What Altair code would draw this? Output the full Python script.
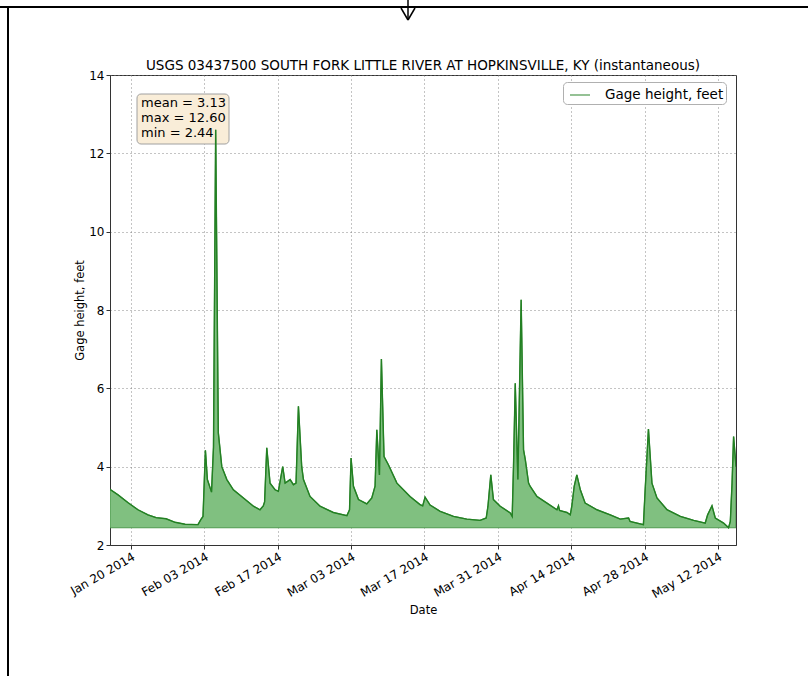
import altair as alt
import pandas as pd

# ---------------- data ----------------
dates = [
    "2014-01-16 00:00", "2014-01-17 13:00", "2014-01-19 11:00", "2014-01-21 08:00",
    "2014-01-23 06:00", "2014-01-24 19:00", "2014-01-26 17:00", "2014-01-28 10:00",
    "2014-01-30 08:00", "2014-02-01 19:00", "2014-02-02 08:00", "2014-02-02 18:00",
    "2014-02-03 05:00", "2014-02-03 14:00", "2014-02-04 09:00", "2014-02-04 18:00",
    "2014-02-05 04:00", "2014-02-05 16:00", "2014-02-06 08:00", "2014-02-07 07:00",
    "2014-02-08 13:00", "2014-02-10 11:00", "2014-02-12 09:00", "2014-02-13 15:00",
    "2014-02-14 06:00", "2014-02-14 12:00", "2014-02-14 22:00", "2014-02-15 13:00",
    "2014-02-16 12:00", "2014-02-17 03:00", "2014-02-17 23:00", "2014-02-18 10:00",
    "2014-02-19 09:00", "2014-02-20 00:00", "2014-02-20 12:00", "2014-02-20 23:00",
    "2014-02-21 14:00", "2014-02-21 22:00", "2014-02-23 04:00", "2014-02-25 02:00",
    "2014-02-27 15:00", "2014-03-02 05:00", "2014-03-02 17:00", "2014-03-03 00:00",
    "2014-03-03 11:00", "2014-03-04 10:00", "2014-03-06 00:00", "2014-03-06 23:00",
    "2014-03-07 14:00", "2014-03-07 22:00", "2014-03-08 10:00", "2014-03-08 19:00",
    "2014-03-09 07:00", "2014-03-10 03:00", "2014-03-11 18:00", "2014-03-14 06:00",
    "2014-03-16 04:00", "2014-03-16 16:00", "2014-03-17 03:00", "2014-03-18 02:00",
    "2014-03-20 00:00", "2014-03-22 13:00", "2014-03-25 02:00", "2014-03-27 15:00",
    "2014-03-28 19:00", "2014-03-29 03:00", "2014-03-29 16:00", "2014-03-30 04:00",
    "2014-03-31 11:00", "2014-04-02 09:00", "2014-04-02 18:00", "2014-04-03 00:00",
    "2014-04-03 08:00", "2014-04-03 20:00", "2014-04-04 11:00", "2014-04-04 22:00",
    "2014-04-05 06:00", "2014-04-05 21:00", "2014-04-06 04:00", "2014-04-07 11:00",
    "2014-04-09 09:00", "2014-04-11 07:00", "2014-04-11 14:00", "2014-04-11 19:00",
    "2014-04-13 05:00", "2014-04-13 20:00", "2014-04-14 03:00", "2014-04-14 14:00",
    "2014-04-15 02:00", "2014-04-15 18:00", "2014-04-16 16:00", "2014-04-18 22:00",
    "2014-04-21 11:00", "2014-04-23 09:00", "2014-04-24 23:00", "2014-04-25 06:00",
    "2014-04-27 19:00", "2014-04-28 03:00", "2014-04-28 18:00", "2014-04-29 10:00",
    "2014-04-30 09:00", "2014-05-02 07:00", "2014-05-04 20:00", "2014-05-07 09:00",
    "2014-05-09 14:00", "2014-05-10 01:00", "2014-05-10 21:00", "2014-05-11 12:00",
    "2014-05-13 02:00", "2014-05-14 01:00", "2014-05-14 09:00", "2014-05-14 17:00",
    "2014-05-15 00:00", "2014-05-15 11:00",
]
heights = [
    3.42, 3.28, 3.08, 2.90,
    2.77, 2.70, 2.67, 2.58,
    2.53, 2.52, 2.65, 2.73,
    4.42, 3.67, 3.35, 4.50,
    12.60, 4.87, 4.00, 3.67,
    3.41, 3.20, 2.99, 2.90,
    3.00, 3.10, 4.48, 3.58,
    3.41, 3.37, 4.00, 3.58,
    3.67, 3.54, 3.58, 5.54,
    4.00, 3.67, 3.24, 2.99,
    2.83, 2.75, 2.90, 4.22,
    3.50, 3.16, 3.05, 3.20,
    3.50, 4.94, 3.79, 6.75,
    4.26, 4.05, 3.58, 3.24,
    3.03, 3.00, 3.22, 3.02,
    2.86, 2.73, 2.66, 2.63,
    2.69, 2.99, 3.79, 3.16,
    2.99, 2.82, 2.73, 4.01,
    6.13, 3.67, 8.26, 4.43,
    4.18, 3.58, 3.50, 3.24,
    3.07, 2.90, 3.00, 2.88,
    2.83, 2.77, 2.99, 3.50,
    3.79, 3.41, 3.07, 2.90,
    2.77, 2.66, 2.69, 2.60,
    2.52, 3.41, 4.96, 3.58,
    3.20, 2.90, 2.73, 2.63,
    2.56, 2.77, 3.00, 2.69,
    2.56, 2.44, 2.60, 3.58,
    4.77, 4.00,
]
series_name = "Gage height, feet"
stat_names = ["mean", "max", "min"]
stat_values = [3.13, 12.60, 2.44]
baseline = 2.44
x_tick_dates = [(1, 20), (2, 3), (2, 17), (3, 3), (3, 17), (3, 31), (4, 14), (4, 28), (5, 12)]
y_ticks = [2, 4, 6, 8, 10, 12, 14]
title_text = "USGS 03437500 SOUTH FORK LITTLE RIVER AT HOPKINSVILLE, KY (instantaneous)"

FONT = "DejaVu Sans"
W, H = 626, 470
df = pd.DataFrame({"date": dates, "height": heights, "series": series_name})

x_enc = alt.X(
    "date:T",
    scale=alt.Scale(
        domain=[alt.DateTime(year=2014, month=1, date=16, hours=0),
                alt.DateTime(year=2014, month=5, date=15, hours=11)],
        nice=False,
    ),
    axis=alt.Axis(
        values=[alt.DateTime(year=2014, month=m, date=d) for m, d in x_tick_dates],
        format="%b %d %Y",
        labelAngle=-30,
        labelAlign="right",
        labelBaseline="top",
        labelPadding=2,
        labelOverlap=False,
        labelBound=False,
        title="Date",
        titlePadding=5,
    ),
)
y_enc = alt.Y(
    "height:Q",
    scale=alt.Scale(domain=[2, 14], nice=False, zero=False),
    axis=alt.Axis(values=y_ticks, title="Gage height, feet", labelPadding=2, titlePadding=3),
)

area = alt.Chart(df).mark_area(
    color="#80c080", opacity=1, stroke="#4f9a4f", strokeWidth=1.2, clip=True
).encode(x=x_enc, y=y_enc, y2=alt.datum(baseline))

line = alt.Chart(df).mark_line(strokeWidth=1.4, clip=True).encode(
    x=alt.X("date:T"),
    y=alt.Y("height:Q"),
    color=alt.Color(
        "series:N",
        scale=alt.Scale(domain=[series_name], range=["#238023"]),
        legend=alt.Legend(
            title=None, orient="none", legendX=453, legendY=7,
            symbolType="stroke", symbolSize=400, symbolStrokeWidth=1.6,
            symbolOpacity=0.6, symbolOffset=4, labelOffset=14,
            labelFontSize=13.5, labelFont=FONT, labelColor="black",
            fillColor="white", strokeColor="#b0b0b0", cornerRadius=4,
            padding=2,
        ),
    ),
)

one = pd.DataFrame({"k": [0]})

# chart title drawn as text just above the plot frame
title_mark = alt.Chart(one).mark_text(
    text=title_text, align="center", baseline="bottom",
    font=FONT, fontSize=13.5, color="black"
).encode(x=alt.value(W / 2), y=alt.value(-2))

stats_text = "\n".join(f"{n} = {v:.2f}" for n, v in zip(stat_names, stat_values))
stats_box = alt.Chart(one).mark_rect(
    fill="#f9edd8", stroke="#a0a0a0", strokeWidth=1, cornerRadius=4
).encode(x=alt.value(27), x2=alt.value(119), y=alt.value(19), y2=alt.value(69))
stats_lbl = alt.Chart(one).mark_text(
    text=stats_text, lineBreak="\n", lineHeight=15, align="left", baseline="top",
    font=FONT, fontSize=13, color="black"
).encode(x=alt.value(31), y=alt.value(22))

# decorative frame and arrow that surround the chart in the reference
frame_top = alt.Chart(one).mark_rule(color="black", strokeWidth=2).encode(
    x=alt.value(-110), x2=alt.value(698), y=alt.value(-68), y2=alt.value(-68))
frame_left = alt.Chart(one).mark_rule(color="black", strokeWidth=2).encode(
    x=alt.value(-102), x2=alt.value(-102), y=alt.value(-68), y2=alt.value(601))
arrow_shaft = alt.Chart(one).mark_rule(color="black", strokeWidth=1.5).encode(
    x=alt.value(298), x2=alt.value(298), y=alt.value(-75), y2=alt.value(-55))
arrow_l = alt.Chart(one).mark_rule(color="black", strokeWidth=1.5).encode(
    x=alt.value(291), x2=alt.value(298), y=alt.value(-67), y2=alt.value(-55))
arrow_r = alt.Chart(one).mark_rule(color="black", strokeWidth=1.5).encode(
    x=alt.value(305), x2=alt.value(298), y=alt.value(-67), y2=alt.value(-55))

chart = alt.layer(
    stats_box, stats_lbl, area, line, title_mark,
    frame_top, frame_left, arrow_shaft, arrow_l, arrow_r,
).properties(
    width=W,
    height=H,
    padding={"left": 110, "top": 75, "right": 72, "bottom": 131},
    autosize=alt.AutoSizeParams(type="none"),
    background="white",
).configure_view(
    stroke="#333333", strokeWidth=1
).configure_axis(
    domainColor="#333333", domainWidth=1, tickColor="#333333", tickSize=4,
    labelFont=FONT, labelFontSize=12, labelColor="black",
    titleFont=FONT, titleFontSize=11.5, titleFontWeight="normal", titleColor="black",
    grid=True, gridColor="#7a7a7a", gridDash=[1, 3], gridWidth=0.9,
)

chart.save("out.html", embed_options={"renderer": "svg", "actions": False})
